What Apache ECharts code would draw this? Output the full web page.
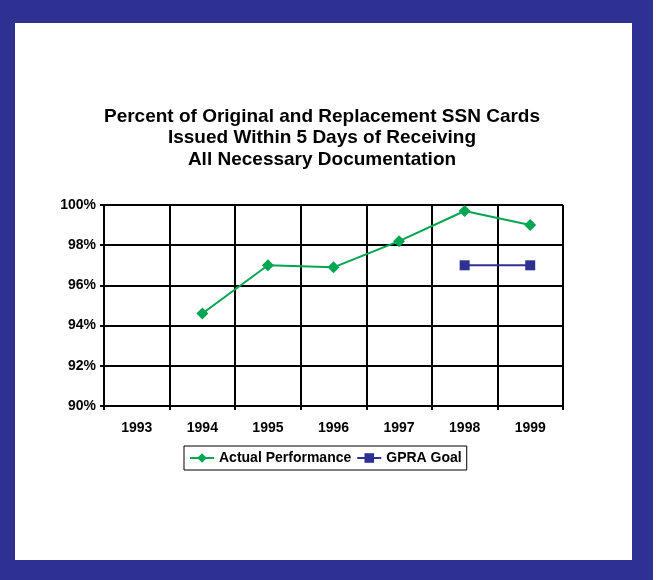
<!DOCTYPE html>
<html>
<head>
<meta charset="utf-8">
<script src="https://cdn.jsdelivr.net/npm/echarts@6/dist/echarts.min.js"></script>
<style>
  html, body { margin: 0; padding: 0; background: #ffffff; }
  #chart { width: 659px; height: 580px; }
</style>
</head>
<body>
<div id="chart"></div>
<script>
// Fiscal years on the category axis
const years = ['1993', '1994', '1995', '1996', '1997', '1998', '1999'];
// Percent of SSN cards issued within 5 days (null = no data for that year)
const actualPerformance = [null, 94.6, 97.0, 96.9, 98.2, 99.7, 99.0];
const gpraGoal = [null, null, null, null, null, 97.0, 97.0];
// Value axis range and step (percent)
const yMin = 90, yMax = 100, yStep = 2;

const navy = '#2E3192';
const green = '#00A651';
const font = 'Arial, "Liberation Sans", Helvetica, sans-serif';

const chart = echarts.init(document.getElementById('chart'), null, { renderer: 'canvas' });

chart.setOption({
  backgroundColor: '#ffffff',
  animation: false,
  textStyle: { fontFamily: font },
  graphic: [
    { type: 'rect', silent: true, z: -20, shape: { x: 0, y: 0, width: 653, height: 580 }, style: { fill: navy } },
    { type: 'rect', silent: true, z: -19, shape: { x: 15, y: 23, width: 617, height: 537 }, style: { fill: '#ffffff' } }
  ],
  title: {
    text: 'Percent of Original and Replacement SSN Cards\nIssued Within 5 Days of Receiving\nAll Necessary Documentation',
    left: 317,
    top: 101,
    textAlign: 'center',
    textStyle: { fontFamily: font, fontWeight: 'bold', fontSize: 19, lineHeight: 21.5, color: '#000' }
  },
  legend: {
    left: 184,
    top: 446,
    padding: [5, 5, 5, 5],
    borderColor: '#000',
    borderWidth: 1,
    itemWidth: 24,
    itemHeight: 12,
    itemGap: 5,
    textStyle: { fontFamily: font, fontWeight: 'bold', fontSize: 14, color: '#000' },
    data: ['Actual Performance', 'GPRA Goal']
  },
  grid: { left: 104, top: 205, width: 459, height: 201, containLabel: false },
  xAxis: {
    type: 'category',
    data: years,
    boundaryGap: true,
    axisLine: { show: true, lineStyle: { color: '#000', width: 2 } },
    axisTick: { show: true, length: 4, lineStyle: { color: '#000', width: 2 } },
    axisLabel: { margin: 15, fontFamily: font, fontWeight: 'bold', fontSize: 14, color: '#000' },
    splitLine: { show: true, lineStyle: { color: '#000', width: 2 } }
  },
  yAxis: {
    type: 'value',
    min: yMin,
    max: yMax,
    interval: yStep,
    axisLine: { show: true, lineStyle: { color: '#000', width: 2 } },
    axisTick: { show: true, length: 4, lineStyle: { color: '#000', width: 2 } },
    axisLabel: { margin: 8, fontFamily: font, fontWeight: 'bold', fontSize: 14, color: '#000', formatter: '{value}%' },
    splitLine: { show: true, lineStyle: { color: '#000', width: 2 } }
  },
  series: [
    {
      name: 'Actual Performance',
      type: 'line',
      data: actualPerformance,
      symbol: 'diamond',
      symbolSize: 12,
      showAllSymbol: true,
      connectNulls: false,
      itemStyle: { color: green },
      lineStyle: { color: green, width: 2 }
    },
    {
      name: 'GPRA Goal',
      type: 'line',
      data: gpraGoal,
      symbol: 'rect',
      symbolSize: 10,
      showAllSymbol: true,
      itemStyle: { color: navy },
      lineStyle: { color: navy, width: 2 }
    }
  ]
});
</script>
</body>
</html>
